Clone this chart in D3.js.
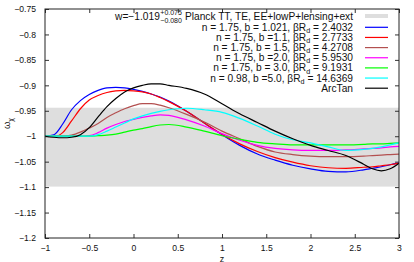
<!DOCTYPE html>
<html lang="en">
<head>
<meta charset="UTF-8">
<title>w(z)</title>
<script src="https://cdn.jsdelivr.net/npm/d3@7"></script>
<style>
    body { margin: 0; background: #fff; }
    text { font-family: "Liberation Sans", Arial, sans-serif; fill: #111; }
    .tick text { font-size: 8.6px; }
    .leg { font-size: 10.2px; }
</style>
</head>
<body>
<script>
    const width = 414, height = 262;
    const margin = {top: 9, right: 15, bottom: 24, left: 45};

    // redshift grid shared by every curve
    const zGrid = [-1, -0.9, -0.8, -0.7, -0.6, -0.5, -0.4, -0.3, -0.2, -0.1, 0, 0.1, 0.2, 0.3, 0.4,
                   0.6, 0.8, 1.0, 1.2, 1.4, 1.6, 1.8, 2.0, 2.2, 2.4, 2.6, 2.7, 2.8, 2.9, 3.0];

    const wBlue    = [-1.000, -0.997, -0.976, -0.948, -0.930, -0.918, -0.910, -0.905, -0.904, -0.905, -0.908, -0.912, -0.917, -0.923, -0.931,
                      -0.951, -0.974, -0.997, -1.018, -1.035, -1.047, -1.057, -1.064, -1.069, -1.070, -1.066, -1.063, -1.060, -1.056, -1.053];
    const wRed     = [-1.000, -1.001, -0.993, -0.970, -0.946, -0.929, -0.920, -0.914, -0.911, -0.910, -0.911, -0.913, -0.917, -0.924, -0.932,
                      -0.951, -0.974, -0.996, -1.015, -1.030, -1.042, -1.051, -1.058, -1.062, -1.063, -1.061, -1.060, -1.058, -1.056, -1.053];
    const wBrown   = [-1.000, -1.000, -1.000, -0.998, -0.992, -0.984, -0.975, -0.963, -0.954, -0.946, -0.940, -0.936, -0.936, -0.939, -0.944,
                      -0.957, -0.972, -0.990, -1.005, -1.020, -1.031, -1.036, -1.039, -1.040, -1.040, -1.039, -1.038, -1.037, -1.036, -1.035];
    const wMagenta = [-1.000, -1.000, -1.000, -1.000, -1.000, -0.999, -0.993, -0.984, -0.977, -0.971, -0.967, -0.963, -0.960, -0.958, -0.959,
                      -0.968, -0.980, -0.995, -1.008, -1.018, -1.024, -1.027, -1.028, -1.028, -1.027, -1.025, -1.024, -1.023, -1.021, -1.020];
    const wGreen   = [-1.000, -1.000, -1.000, -1.000, -1.000, -1.000, -0.999, -0.998, -0.996, -0.992, -0.988, -0.985, -0.981, -0.978, -0.977,
                      -0.982, -0.990, -0.999, -1.006, -1.012, -1.015, -1.017, -1.017, -1.017, -1.017, -1.016, -1.015, -1.015, -1.014, -1.013];
    const wCyan    = [-1.000, -1.000, -1.000, -1.000, -1.000, -1.000, -0.997, -0.990, -0.982, -0.974, -0.966, -0.960, -0.955, -0.951, -0.948,
                      -0.945, -0.948, -0.953, -0.965, -0.980, -0.996, -1.007, -1.013, -1.021, -1.028, -1.026, -1.024, -1.021, -1.017, -1.013];
    const wArcTan  = [-1.000, -1.002, -1.003, -1.002, -0.997, -0.983, -0.962, -0.942, -0.926, -0.913, -0.905, -0.900, -0.897, -0.897, -0.900,
                      -0.906, -0.917, -0.936, -0.956, -0.973, -0.990, -1.005, -1.018, -1.028, -1.038, -1.055, -1.064, -1.068, -1.064, -1.053];

    const seriesLabels = ["n = 1.75, b = 1.021, βR|d| = 2.4032",
                          "n = 1.75, b =1.1, βR|d| = 2.7733",
                          "n = 1.75, b = 1.5, βR|d| = 4.2708",
                          "n = 1.75, b =2.0, βR|d| = 5.9530",
                          "n = 1.75, b = 3.0, βR|d| = 9.1931",
                          "n = 0.98, b =5.0, βR|d| = 14.6369",
                          "ArcTan"];
    const seriesValues = [wBlue, wRed, wBrown, wMagenta, wGreen, wCyan, wArcTan];
    const seriesColors = ["#0000ff", "#ff0000", "#b35050", "#ff00ff", "#00ff00", "#00ffff", "#000000"];

    // Planck band  w = -1.019 +0.075 -0.080
    const planck = {w: -1.019, up: 0.075, down: 0.080};

    const xTicks = [-1, -0.5, 0, 0.5, 1, 1.5, 2, 2.5, 3];
    const yTicks = [-0.75, -0.8, -0.85, -0.9, -0.95, -1, -1.05, -1.1, -1.15, -1.2];

    const fmt = v => String(v).replace("-", "\u2212");

    const svg = d3.select("body").append("svg")
        .attr("width", width).attr("height", height);

    const x = d3.scaleLinear().domain([-1, 3]).range([margin.left, width - margin.right]);
    const y = d3.scaleLinear().domain([-1.2, -0.75]).range([height - margin.bottom, margin.top]);

    svg.append("clipPath").attr("id", "plot")
        .append("rect")
        .attr("x", x(-1)).attr("y", y(-0.75))
        .attr("width", x(3) - x(-1)).attr("height", y(-1.2) - y(-0.75));

    // grey Planck band
    svg.append("rect")
        .attr("x", x(-1)).attr("width", x(3) - x(-1))
        .attr("y", y(planck.w + planck.up))
        .attr("height", y(planck.w - planck.down) - y(planck.w + planck.up))
        .attr("fill", "#dedede");

    // axes (gnuplot-style: inward ticks, mirrored)
    const tick = 4;
    svg.append("g").attr("transform", `translate(0,${y(-1.2)})`)
        .call(d3.axisBottom(x).tickValues(xTicks).tickFormat(fmt).tickSizeInner(-tick).tickSizeOuter(0).tickPadding(7));
    svg.append("g").attr("transform", `translate(0,${y(-0.75)})`)
        .call(d3.axisTop(x).tickValues(xTicks).tickFormat("").tickSizeInner(-tick).tickSizeOuter(0));
    svg.append("g").attr("transform", `translate(${x(-1)},0)`)
        .call(d3.axisLeft(y).tickValues(yTicks).tickFormat(fmt).tickSizeInner(-tick).tickSizeOuter(0).tickPadding(9));
    svg.append("g").attr("transform", `translate(${x(3)},0)`)
        .call(d3.axisRight(y).tickValues(yTicks).tickFormat("").tickSizeInner(-tick).tickSizeOuter(0));
    svg.selectAll(".domain").remove();
    svg.selectAll(".tick line").attr("stroke", "#333");

    // curves
    const line = d3.line()
        .x((d, i) => x(zGrid[i]))
        .y(d => y(d))
        .curve(d3.curveMonotoneX);

    svg.append("g").attr("clip-path", "url(#plot)")
        .selectAll("path.curve")
        .data(seriesValues)
        .join("path").attr("class", "curve")
        .attr("d", line)
        .attr("fill", "none")
        .attr("stroke", (d, i) => seriesColors[i])
        .attr("stroke-width", 1.2);

    // frame
    svg.append("rect")
        .attr("x", x(-1)).attr("y", y(-0.75))
        .attr("width", x(3) - x(-1)).attr("height", y(-1.2) - y(-0.75))
        .attr("fill", "none").attr("stroke", "#222").attr("stroke-width", 1);

    // axis titles
    svg.append("text")
        .attr("x", (x(-1) + x(3)) / 2).attr("y", 261.5)
        .attr("text-anchor", "middle").style("font-size", "9px").text("z");
    const yl = svg.append("text")
        .attr("transform", `translate(10,${(y(-0.75) + y(-1.2)) / 2}) rotate(-90)`)
        .attr("text-anchor", "middle").style("font-size", "9.5px");
    yl.append("tspan").text("ω");
    yl.append("tspan").attr("dy", 2.5).style("font-size", "7px").text("χ");

    // legend
    const legRight = 353, sampleX0 = 365, sampleX1 = 388;
    const row0 = 16, rowY = i => 27.3 + i * 10.15;

    const leg = svg.append("g");
    // first row with stacked scripts
    const planckText = leg.append("text").attr("class", "leg")
        .attr("x", legRight).attr("y", row0 + 3.5).attr("text-anchor", "end")
        .text("Planck TT, TE, EE+lowP+lensing+ext");
    const pw = planckText.node().getComputedTextLength();
    const sx = legRight - pw - 3;
    const sup = leg.append("text").attr("class", "leg").style("font-size", "7px")
        .attr("x", sx).attr("y", row0 - 1).attr("text-anchor", "end").text("+0.075");
    leg.append("text").attr("class", "leg").style("font-size", "7px")
        .attr("x", sx).attr("y", row0 + 7).attr("text-anchor", "end").text("\u22120.080");
    const sw = sup.node().getComputedTextLength();
    leg.append("text").attr("class", "leg")
        .attr("x", sx - sw - 0.5).attr("y", row0 + 3.5).attr("text-anchor", "end")
        .text("w=\u22121.019");
    leg.append("rect")
        .attr("x", sampleX0).attr("width", sampleX1 - sampleX0)
        .attr("y", row0 - 2).attr("height", 4).attr("fill", "#dedede");

    seriesLabels.forEach((lab, i) => {
        const t = leg.append("text").attr("class", "leg")
            .attr("x", legRight).attr("y", rowY(i) + 3.5).attr("text-anchor", "end");
        lab.split("|").forEach((part, k) => {
            const ts = t.append("tspan").text(part);
            if (k === 1) ts.style("font-size", "7.2px").attr("dy", 2.2);
            if (k === 2) ts.attr("dy", -2.2);
        });
        leg.append("line")
            .attr("x1", sampleX0).attr("x2", sampleX1)
            .attr("y1", rowY(i)).attr("y2", rowY(i))
            .attr("stroke", seriesColors[i]).attr("stroke-width", 1.2);
    });
</script>
</body>
</html>
